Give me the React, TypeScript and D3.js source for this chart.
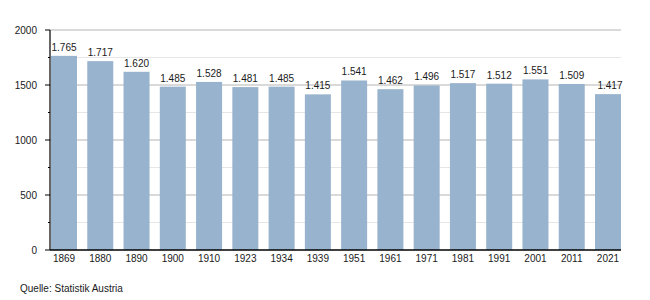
import React from "react";
import * as d3 from "d3";

const years = ["1869","1880","1890","1900","1910","1923","1934","1939","1951","1961","1971","1981","1991","2001","2011","2021"];
const values = [1765,1717,1620,1485,1528,1481,1485,1415,1541,1462,1496,1517,1512,1551,1509,1417];
const majorTicks = [0,500,1000,1500,2000];
const minorTicks = [250,750,1250,1750];
const source = "Quelle: Statistik Austria";

const fmt = (v: number) => {
  const s = String(v);
  return s.length > 3 ? s.slice(0, s.length - 3) + "." + s.slice(s.length - 3) : s;
};

export default function App() {
  const W = 650, H = 300;
  const left = 50, right = 621, top = 30, bottom = 250;
  const x = d3.scaleBand<string>().domain(years).range([51, 621]).paddingInner(0.283).paddingOuter(0);
  const y = d3.scaleLinear().domain([0, 2000]).range([bottom, top]);
  const font = "'Liberation Sans', Arial, Helvetica, sans-serif";
  return (
    <svg width={W} height={H} style={{ position: "absolute", left: 0, top: 0 }} fontFamily={font}>
      <rect width={W} height={H} fill="#fff" />
      {minorTicks.map(t => (
        <line key={"m" + t} x1={left} x2={right} y1={y(t)} y2={y(t)} stroke="#e6e6e6" strokeWidth={1} />
      ))}
      {majorTicks.filter(t => t > 0).map(t => (
        <line key={"g" + t} x1={left} x2={right} y1={y(t)} y2={y(t)} stroke="#b4b4b4" strokeWidth={1} />
      ))}
      {years.map((yr, i) => (
        <rect key={yr} x={x(yr)!} y={y(values[i])} width={x.bandwidth()} height={bottom - y(values[i])} fill="#98b3cd" />
      ))}
      {years.map((yr, i) => (
        <text key={"l" + yr} x={x(yr)! + x.bandwidth() / 2 + (i === years.length - 1 ? 2 : 0)} y={y(values[i]) - 5} textAnchor="middle" fontSize={10} fill="#1a1a1a">{fmt(values[i])}</text>
      ))}
      <line x1={left} x2={left} y1={top} y2={bottom} stroke="#000" strokeWidth={1.2} />
      <line x1={left} x2={right} y1={bottom} y2={bottom} stroke="#000" strokeWidth={1.5} />
      {majorTicks.map(t => (
        <g key={"t" + t}>
          <line x1={left - 5} x2={left} y1={y(t)} y2={y(t)} stroke="#000" />
          <text x={37} y={y(t) + 4} textAnchor="end" fontSize={10} fill="#1a1a1a">{t}</text>
        </g>
      ))}
      {minorTicks.map(t => (
        <line key={"mt" + t} x1={left - 2} x2={left} y1={y(t)} y2={y(t)} stroke="#000" />
      ))}
      {years.map(yr => (
        <text key={"x" + yr} x={x(yr)! + x.bandwidth() / 2} y={262} textAnchor="middle" fontSize={10} fill="#1a1a1a">{yr}</text>
      ))}
      <text x={20} y={292} fontSize={10} fill="#1a1a1a">{source}</text>
    </svg>
  );
}
